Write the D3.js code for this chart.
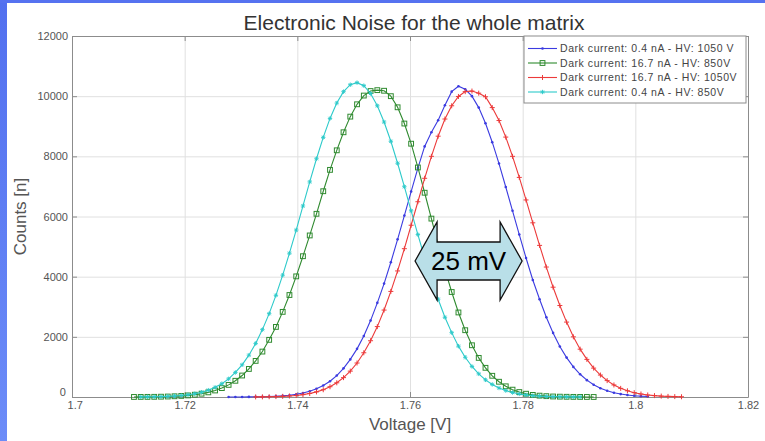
<!DOCTYPE html>
<html>
<head>
<meta charset="utf-8">
<script src="https://cdn.jsdelivr.net/npm/d3@7"></script>
<style>
    body { margin: 0; background: #fff; }
    svg { display: block; font-family: "Liberation Sans", Arial, sans-serif; }
</style>
</head>
<body>
<svg id="chart" width="765" height="441"></svg>
<script>
'use strict';

// bin centres shared by all four histograms [V]
const voltage = [
    1.7110, 1.7122, 1.7134, 1.7146, 1.7158, 1.7170, 1.7182, 1.7194, 1.7206, 1.7218,
    1.7230, 1.7242, 1.7254, 1.7266, 1.7278, 1.7290, 1.7302, 1.7314, 1.7326, 1.7338,
    1.7350, 1.7362, 1.7374, 1.7386, 1.7398, 1.7410, 1.7422, 1.7434, 1.7446, 1.7458,
    1.7470, 1.7482, 1.7494, 1.7506, 1.7518, 1.7530, 1.7542, 1.7554, 1.7566, 1.7578,
    1.7590, 1.7602, 1.7614, 1.7626, 1.7638, 1.7650, 1.7662, 1.7674, 1.7686, 1.7698,
    1.7710, 1.7722, 1.7734, 1.7746, 1.7758, 1.7770, 1.7782, 1.7794, 1.7806, 1.7818,
    1.7830, 1.7842, 1.7854, 1.7866, 1.7878, 1.7890, 1.7902, 1.7914, 1.7926, 1.7938,
    1.7950, 1.7962, 1.7974, 1.7986, 1.7998, 1.8010, 1.8022, 1.8034, 1.8046, 1.8058,
    1.8070, 1.8082
];

// 0.4 nA - HV 1050 V (first bin = voltage[14])
const blueStart = 14;
const blueCounts = [
    1, 1, 2, 4, 6, 10, 16, 26, 40, 60,
    90, 133, 192, 272, 380, 524, 713, 953, 1250, 1600,
    2030, 2540, 3130, 3770, 4480, 5240, 6030, 6830, 7610, 8330,
    8800, 9200, 9700, 10150, 10330, 10230, 10000, 9620, 9100, 8470,
    7760, 6980, 6190, 5400, 4620, 3890, 3250, 2650, 2130, 1680,
    1310, 1000, 755, 560, 408, 292, 206, 143, 97, 65,
    43, 28, 18
];

// 16.7 nA - HV 850 V
const greenStart = 0;
const greenCounts = [
    2, 3, 4, 6, 10, 16, 24, 36, 53, 76,
    110, 154, 217, 296, 403, 539, 714, 933, 1200, 1510,
    1900, 2330, 2830, 3390, 4010, 4680, 5370, 6090, 6840, 7550,
    8200, 8800, 9320, 9730, 10020, 10170, 10200, 10180, 10000, 9630,
    9090, 8420, 7630, 6790, 5930, 5060, 4240, 3490, 2810, 2220,
    1720, 1300, 970, 705, 507, 355, 244, 164, 109, 70,
    45, 28, 17, 11, 7, 4, 3, 2, 1
];

// 16.7 nA - HV 1050 V
const redStart = 18;
const redCounts = [
    3, 5, 9, 14, 22, 34, 52, 79, 116, 170,
    242, 341, 472, 644, 860, 1130, 1470, 1870, 2340, 2890,
    3510, 4190, 4930, 5710, 6490, 7270, 8000, 8670, 9240, 9680,
    9990, 10150, 10170, 10100, 9980, 9620, 9190, 8640, 8000, 7300,
    6550, 5790, 5040, 4320, 3650, 3040, 2490, 2000, 1590, 1250,
    960, 730, 545, 400, 287, 206, 144, 100, 68, 46,
    30, 20, 13, 8
];

// 0.4 nA - HV 850 V
const cyanStart = 1;
const cyanCounts = [
    3, 5, 8, 13, 21, 33, 50, 75, 110, 160,
    227, 321, 443, 604, 815, 1070, 1390, 1780, 2240, 2770,
    3380, 4050, 4780, 5550, 6350, 7150, 7920, 8630, 9260, 9770,
    10150, 10380, 10450, 10350, 10090, 9680, 9140, 8500, 7770, 6990,
    6190, 5400, 4630, 3910, 3250, 2650, 2140, 1690, 1320, 1015,
    770, 570, 418, 300, 213, 148, 102, 69, 46, 30,
    19, 12, 8, 5, 3, 2
];

const legendLabels = [
    'Dark current: 0.4 nA - HV: 1050 V',
    'Dark current: 16.7 nA - HV: 850V',
    'Dark current: 16.7 nA - HV: 1050V',
    'Dark current: 0.4 nA - HV: 850V'
];

const xTicks = [1.7, 1.72, 1.74, 1.76, 1.78, 1.8, 1.82];
const xTickLabels = ['1.7', '1.72', '1.74', '1.76', '1.78', '1.8', '1.82'];
const yTicks = [0, 2000, 4000, 6000, 8000, 10000, 12000];

// the "25 mV" shift annotation, in data units
const shiftFrom = 1.7609;
const shiftTo = 1.7799;
const shiftLevel = 4520;

const W = 765, H = 441;
const MARGIN = { top: 36, right: 17, bottom: 44, left: 72 };

const series = [
    { label: legendLabels[0], color: '#3b3be0', marker: 'dot',    start: blueStart,  counts: blueCounts },
    { label: legendLabels[1], color: '#2f8a2f', marker: 'square', start: greenStart, counts: greenCounts },
    { label: legendLabels[2], color: '#ec3a3a', marker: 'plus',   start: redStart,   counts: redCounts },
    { label: legendLabels[3], color: '#2ccaca', marker: 'star',   start: cyanStart,  counts: cyanCounts }
];

const svg = d3.select('#chart');

// slide frame: blue strips on the left and top
const grad = svg.append('defs').append('linearGradient')
    .attr('id', 'frame-grad')
    .attr('x1', 0).attr('y1', 0).attr('x2', 0).attr('y2', 1);
grad.append('stop').attr('offset', '0%').attr('stop-color', '#5270ef');
grad.append('stop').attr('offset', '100%').attr('stop-color', '#6c8cf8');

svg.append('rect').attr('width', W).attr('height', H).attr('fill', '#fff');
svg.append('rect').attr('x', 0).attr('y', 0).attr('width', 7).attr('height', H).attr('fill', 'url(#frame-grad)');
svg.append('rect').attr('x', 0).attr('y', 0).attr('width', W).attr('height', 3).attr('fill', '#5672f0');

const x = d3.scaleLinear().domain([1.7, 1.82]).range([MARGIN.left, W - MARGIN.right]);
const y = d3.scaleLinear().domain([0, 12000]).range([H - MARGIN.bottom, MARGIN.top]);

const x0 = x.range()[0], x1 = x.range()[1];
const y0 = y.range()[0], y1 = y.range()[1];

// grid
svg.append('g')
    .attr('transform', `translate(0,${y0})`)
    .call(d3.axisBottom(x).tickValues(xTicks).tickSize(-(y0 - y1)).tickFormat(''))
    .call(g => g.select('.domain').remove())
    .call(g => g.selectAll('line').attr('stroke', '#e0e0e0'));

svg.append('g')
    .attr('transform', `translate(${x0},0)`)
    .call(d3.axisLeft(y).tickValues(yTicks).tickSize(-(x1 - x0)).tickFormat(''))
    .call(g => g.select('.domain').remove())
    .call(g => g.selectAll('line').attr('stroke', '#e0e0e0'));

// axes box with inward ticks on all sides
const styleAxis = g => {
    g.select('.domain').attr('stroke', '#8c8c8c');
    g.selectAll('.tick line').attr('stroke', '#8c8c8c');
    g.selectAll('.tick text').attr('fill', '#555').attr('font-size', 11)
        .attr('font-family', '"Liberation Sans", Arial, sans-serif');
};

svg.append('g')
    .attr('transform', `translate(0,${y0})`)
    .call(d3.axisBottom(x).tickValues(xTicks).tickSizeInner(-5).tickSizeOuter(0).tickPadding(4)
        .tickFormat((d, i) => xTickLabels[i]))
    .call(styleAxis)
    .call(g => g.selectAll('.tick text').filter(d => d === 1.7).attr('dx', '0.25em'));

svg.append('g')
    .attr('transform', `translate(0,${y1})`)
    .call(d3.axisTop(x).tickValues(xTicks).tickSizeInner(-5).tickSizeOuter(0).tickFormat(''))
    .call(styleAxis);

svg.append('g')
    .attr('transform', `translate(${x0},0)`)
    .call(d3.axisLeft(y).tickValues(yTicks).tickSizeInner(-5).tickSizeOuter(0).tickPadding(4)
        .tickFormat(d3.format('d')))
    .call(styleAxis)
    // the zero label sits a little higher, clear of the 1.7 label
    .call(g => g.selectAll('.tick text').filter(d => d === 0).attr('dy', '-0.1em').attr('dx', '-0.2em'));

svg.append('g')
    .attr('transform', `translate(${x1},0)`)
    .call(d3.axisRight(y).tickValues(yTicks).tickSizeInner(-5).tickSizeOuter(0).tickFormat(''))
    .call(styleAxis);

// markers
function drawMarker(sel, type, color) {
    if (type === 'dot') {
        sel.append('circle').attr('r', 1.3).attr('fill', color);
    } else if (type === 'square') {
        sel.append('rect').attr('x', -2.4).attr('y', -2.4).attr('width', 4.8).attr('height', 4.8)
            .attr('fill', 'none').attr('stroke', color).attr('stroke-width', 1);
    } else if (type === 'plus') {
        sel.append('path').attr('d', 'M-2.5,0H2.5M0,-2.5V2.5').attr('stroke', color).attr('stroke-width', 1);
    } else {
        sel.append('path').attr('d', 'M-2.2,0H2.2M0,-2.2V2.2M-1.6,-1.6L1.6,1.6M-1.6,1.6L1.6,-1.6')
            .attr('stroke', color).attr('stroke-width', 0.9);
    }
}

const line = d3.line().x(d => x(d.v)).y(d => y(d.c));

series.forEach(s => {
    const pts = s.counts.map((c, i) => ({ v: voltage[s.start + i], c: c }));
    const g = svg.append('g').classed('series', true);

    g.append('path')
        .datum(pts)
        .attr('fill', 'none')
        .attr('stroke', s.color)
        .attr('stroke-width', 1.1)
        .attr('d', line);

    g.selectAll('g.mk')
        .data(pts)
        .join('g')
        .classed('mk', true)
        .attr('transform', d => `translate(${x(d.v)},${y(d.c)})`)
        .each(function () { drawMarker(d3.select(this), s.marker, s.color); });
});

// legend
const legend = svg.append('g').attr('transform', 'translate(524,36)');
legend.append('rect')
    .attr('width', 222).attr('height', 67)
    .attr('fill', '#fff').attr('stroke', '#8c8c8c');

series.forEach((s, i) => {
    const row = legend.append('g').attr('transform', `translate(0,${12.5 + i * 14.5})`);
    row.append('line').attr('x1', 4).attr('x2', 33).attr('stroke', s.color).attr('stroke-width', 1.1);
    drawMarker(row.append('g').attr('transform', 'translate(18.5,0)'), s.marker, s.color);
    row.append('text')
        .attr('x', 36).attr('y', 3.7)
        .attr('font-size', 10.5)
        .attr('letter-spacing', 0.55)
        .attr('fill', '#444')
        .text(s.label);
});

// 25 mV double arrow
const ax0 = x(shiftFrom), ax1 = x(shiftTo), ay = y(shiftLevel);
const head = 22, shaft = 19, wing = 39;
const arrowPts = [
    [ax0, ay], [ax0 + head, ay - wing], [ax0 + head, ay - shaft],
    [ax1 - head, ay - shaft], [ax1 - head, ay - wing], [ax1, ay],
    [ax1 - head, ay + wing], [ax1 - head, ay + shaft], [ax0 + head, ay + shaft],
    [ax0 + head, ay + wing]
];
svg.append('path')
    .attr('d', d3.line()(arrowPts) + 'Z')
    .attr('fill', '#b9dfe8')
    .attr('stroke', '#111')
    .attr('stroke-width', 1.3);

svg.append('text')
    .attr('x', (ax0 + ax1) / 2).attr('y', ay + 9)
    .attr('text-anchor', 'middle')
    .attr('font-size', 26)
    .attr('fill', '#000')
    .text('25 mV');

// titles
svg.append('text')
    .attr('x', 414).attr('y', 30)
    .attr('text-anchor', 'middle')
    .attr('font-size', 21)
    .attr('fill', '#333')
    .text('Electronic Noise for the whole matrix');

svg.append('text')
    .attr('x', (x0 + x1) / 2).attr('y', 430)
    .attr('text-anchor', 'middle')
    .attr('font-size', 17)
    .attr('fill', '#555')
    .text('Voltage [V]');

svg.append('text')
    .attr('transform', `translate(26,${(y0 + y1) / 2}) rotate(-90)`)
    .attr('text-anchor', 'middle')
    .attr('font-size', 17)
    .attr('fill', '#555')
    .text('Counts [n]');
</script>
</body>
</html>
